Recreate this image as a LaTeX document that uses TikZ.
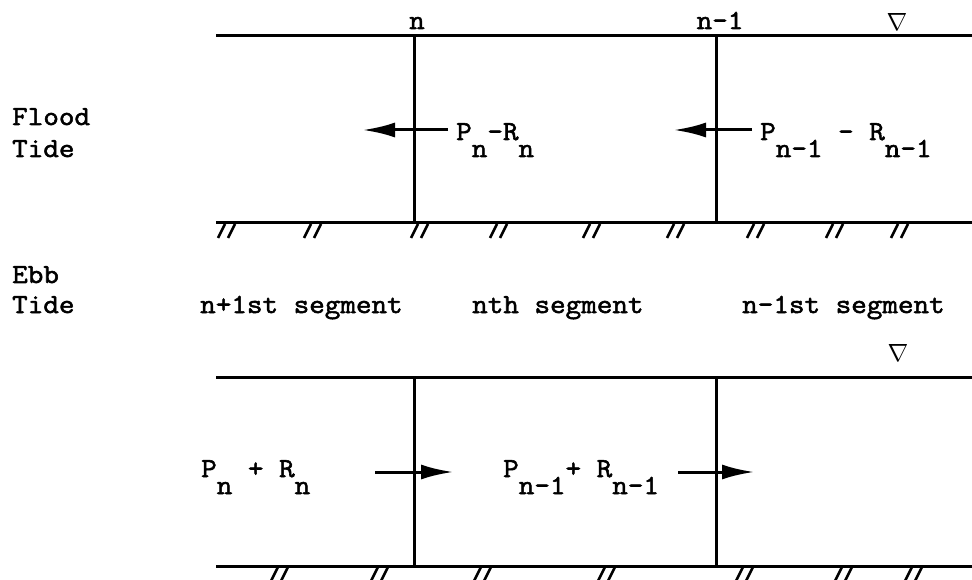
\documentclass[tikz,border=0pt]{standalone}
\usepackage{fontspec}
\setmonofont{Latin Modern Mono}[FakeStretch=1.1,FakeBold=2]
\usetikzlibrary{arrows.meta}

% typewriter style subscript: whole letters dropped half a line
\newcommand{\lo}[1]{\raisebox{-17pt}{#1}}

\begin{document}
\begin{tikzpicture}[
    x=1pt, y=-1pt,
    font=\ttfamily\fontsize{27.5}{32}\selectfont,
    boundary/.style={line width=3pt},
    hatch/.style={line width=2.6pt},
    flowarrow/.style={
        -{Latex[length=32pt,width=15pt]},
        line width=3pt
    },
    lbl/.style={anchor=base west, inner sep=0pt},
    tag/.style={anchor=base, inner sep=0pt},
    level/.style={inner sep=0pt, font=\fontsize{25}{28}\selectfont}
]
\useasboundingbox (0,0) rectangle (972,580);

% Side labels
\node[lbl] (flood) at (12,125) {Flood};
\node[lbl] (floodtide) at (12,157) {Tide};
\node[lbl] (ebb) at (12,283) {Ebb};
\node[lbl] (ebbtide) at (12,313) {Tide};

% Flood tide channel
\coordinate (fsurfL) at (216,36);
\coordinate (fsurfR) at (972,36);
\coordinate (fbedL) at (216,223);
\coordinate (fbedR) at (972,223);
\coordinate (fsecA) at (414,36);
\coordinate (fsecB) at (716,36);
\draw[boundary] (fsurfL) -- (fsurfR);
\draw[boundary] (fbedL) -- (fbedR);
\draw[boundary] (fsecA) -- (fsecA |- fbedL);
\draw[boundary] (fsecB) -- (fsecB |- fbedL);
\foreach \hx in {227,313,420,499,592,676,756,835,900}
    \draw[hatch] (\hx-2,224) -- ++(-7,14) (\hx+8,224) -- ++(-7,14);

\node[tag] (secn) at (417,29) {n};
\node[tag] (secnm) at (720,29) {n-1};
\node[level] (fwater) at (897,22) {$\nabla$};

% Flood tide transport
\node[lbl] (fflowA) at (456,140) {P\lo{n}-R\lo{n}};
\node[lbl] (fflowB) at (760,140) {P\lo{n-1} - R\lo{n-1}};
\coordinate (ftailA) at (448,130);
\coordinate (ftipA) at (363,130);
\coordinate (ftailB) at (752,130);
\coordinate (ftipB) at (674,130);
\draw[flowarrow] (ftailA) -- (ftipA);
\draw[flowarrow] (ftailB) -- (ftipB);

% Segment names
\node[lbl] (segnp) at (200,313) {n+1st segment};
\node[lbl] (segn) at (472,313) {nth segment};
\node[lbl] (segnm) at (742,313) {n-1st segment};

% Ebb tide channel
\coordinate (esurfL) at (216,377);
\coordinate (esurfR) at (972,377);
\coordinate (ebedL) at (216,566);
\coordinate (ebedR) at (972,566);
\coordinate (esecA) at (414,377);
\coordinate (esecB) at (716,377);
\draw[boundary] (esurfL) -- (esurfR);
\draw[boundary] (ebedL) -- (ebedR);
\draw[boundary] (esecA) -- (esecA |- ebedL);
\draw[boundary] (esecB) -- (esecB |- ebedL);
\foreach \hx in {280,380,483,607,745,844,914}
    \draw[hatch] (\hx-2,567) -- ++(-7,14) (\hx+8,567) -- ++(-7,14);

\node[level] (ewater) at (898,353) {$\nabla$};

% Ebb tide transport
\node[lbl] (eflowA) at (201,477) {P\lo{n} + R\lo{n}};
\node[lbl] (eflowB) at (503,477) {P\lo{n-1}+ R\lo{n-1}};
\coordinate (etailA) at (375,472);
\coordinate (etipA) at (453,472);
\coordinate (etailB) at (678,472);
\coordinate (etipB) at (754,472);
\draw[flowarrow] (etailA) -- (etipA);
\draw[flowarrow] (etailB) -- (etipB);

\end{tikzpicture}
\end{document}
